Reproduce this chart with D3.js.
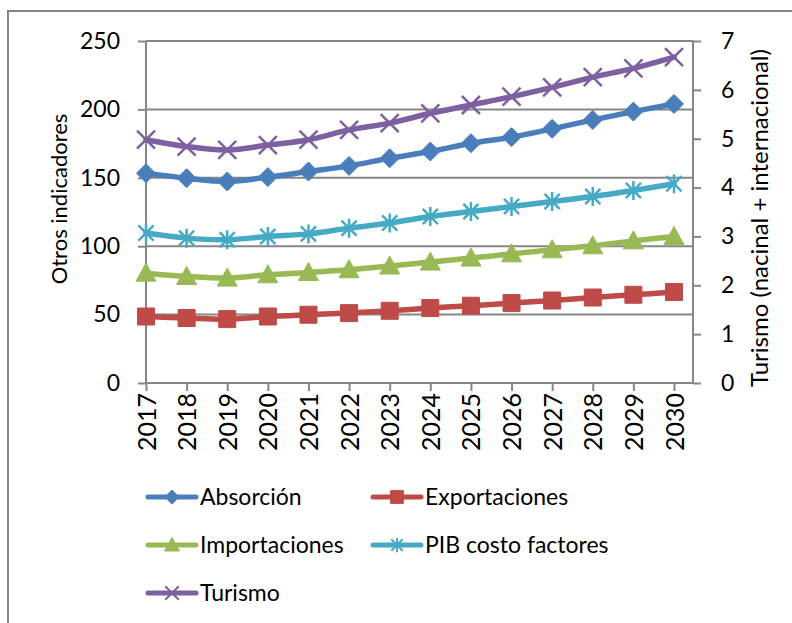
<!DOCTYPE html>
<html>
<head>
<meta charset="utf-8">
<script src="https://cdn.jsdelivr.net/npm/d3@7"></script>
<style>
body { margin: 0; background: #fff; }
text { font-family: Lato, "Open Sans", sans-serif; fill: #000; }
</style>
</head>
<body>
<script>
// data
var years = [2017, 2018, 2019, 2020, 2021, 2022, 2023, 2024, 2025, 2026, 2027, 2028, 2029, 2030];
var absorcion     = [153.4, 149.7, 147.3, 150.5, 154.6, 158.7, 164.3, 169.2, 175.3, 179.7, 185.8, 192.3, 198.4, 204.0];
var exportaciones = [48.6, 47.5, 46.7, 48.6, 49.9, 51.1, 52.8, 54.8, 56.5, 58.4, 60.3, 62.5, 64.5, 66.5];
var importaciones = [80.3, 77.9, 76.7, 79.1, 80.8, 82.8, 85.5, 88.4, 91.3, 94.4, 97.4, 100.3, 103.9, 107.1];
var pibCosto      = [109.6, 105.9, 104.7, 107.1, 109.0, 113.2, 116.9, 121.7, 125.4, 129.0, 132.7, 136.3, 140.7, 145.6];
var turismo       = [4.98, 4.84, 4.77, 4.87, 4.98, 5.18, 5.32, 5.52, 5.69, 5.86, 6.05, 6.26, 6.44, 6.67];
var leftTicks  = [0, 50, 100, 150, 200, 250];
var rightTicks = [0, 1, 2, 3, 4, 5, 6, 7];
var seriesNames = ["Absorción", "Exportaciones", "Importaciones", "PIB costo factores", "Turismo"];

var width = 792, height = 623;
var plot = {left: 146, right: 693, top: 41, bottom: 383};
var axisColor = "#868686";

var svg = d3.select("body").append("svg")
    .attr("width", width)
    .attr("height", height);

// outer frame, only the top and left edges fall inside the picture
svg.append("rect")
    .attr("x", 8)
    .attr("y", 11)
    .attr("width", 900)
    .attr("height", 800)
    .attr("fill", "none")
    .attr("stroke", axisColor)
    .attr("stroke-width", 2);

// scales
var xScale = d3.scalePoint().domain(years).range([146, 674]);
var yLeft = d3.scaleLinear().domain([0, 250]).range([plot.bottom, plot.top]);
var yRight = d3.scaleLinear().domain([0, 7]).range([plot.bottom, plot.top]);

// gridlines
svg.append("g")
    .selectAll("line")
    .data(leftTicks)
  .enter().append("line")
    .attr("x1", plot.left)
    .attr("x2", plot.right)
    .attr("y1", function(d) { return yLeft(d); })
    .attr("y2", function(d) { return yLeft(d); })
    .attr("stroke", axisColor)
    .attr("stroke-width", 2);

function styleAxis(g, size) {
  g.select(".domain").remove();
  g.selectAll(".tick line").attr("stroke", axisColor).attr("stroke-width", 2);
  g.selectAll("text").style("font-size", size + "px").attr("fill", "#000");
}

// left axis
var gLeft = svg.append("g")
    .attr("transform", "translate(" + plot.left + ",0)")
    .call(d3.axisLeft(yLeft).tickValues(leftTicks).tickSize(8).tickPadding(18))
    .call(styleAxis, 23);

// right axis
var gRight = svg.append("g")
    .attr("transform", "translate(" + plot.right + ",0)")
    .call(d3.axisRight(yRight).tickValues(rightTicks).tickFormat(d3.format("d")).tickSize(8).tickPadding(20))
    .call(styleAxis, 23);

// bottom axis
var gBottom = svg.append("g")
    .attr("transform", "translate(0," + plot.bottom + ")")
    .call(d3.axisBottom(xScale).tickSize(8))
    .call(styleAxis, 25);

gBottom.selectAll("text")
    .attr("transform", "rotate(-90)")
    .attr("text-anchor", "end")
    .attr("x", -10)
    .attr("y", 0)
    .attr("dy", "0.36em");

// axis lines
[[plot.left, plot.top, plot.left, plot.bottom],
 [plot.right, plot.top, plot.right, plot.bottom],
 [plot.left, plot.bottom, plot.right, plot.bottom]].forEach(function(l) {
  svg.append("line")
      .attr("x1", l[0]).attr("y1", l[1])
      .attr("x2", l[2]).attr("y2", l[3])
      .attr("stroke", axisColor)
      .attr("stroke-width", 2);
});

// axis titles
svg.append("text")
    .attr("transform", "translate(67,199) rotate(-90)")
    .attr("text-anchor", "middle")
    .style("font-size", "22px")
    .text("Otros indicadores");

svg.append("text")
    .attr("transform", "translate(768,218) rotate(-90)")
    .attr("text-anchor", "middle")
    .style("font-size", "24px")
    .text("Turismo (nacinal + internacional)");

// marker shapes
function markerPath(type, s) {
  var k = s * 0.8;
  if (type == "diamond") return "M0," + (-s) + "L" + s + ",0L0," + s + "L" + (-s) + ",0Z";
  if (type == "square") return "M" + (-s) + "," + (-s) + "h" + (2 * s) + "v" + (2 * s) + "h" + (-2 * s) + "Z";
  if (type == "triangle") return "M0," + (-s) + "L" + s + "," + k + "L" + (-s) + "," + k + "Z";
  if (type == "star") return "M0," + (-s) + "V" + s + "M" + (-k) + "," + (-k) + "L" + k + "," + k + "M" + k + "," + (-k) + "L" + (-k) + "," + k;
  return "M" + (-s) + "," + (-s) + "L" + s + "," + s + "M" + s + "," + (-s) + "L" + (-s) + "," + s;
}

var series = [
  {name: seriesNames[0], values: absorcion,     color: "#4a7ebb", marker: "diamond",  size: 9.5, scale: yLeft},
  {name: seriesNames[1], values: exportaciones, color: "#be4b48", marker: "square",   size: 8.5, scale: yLeft},
  {name: seriesNames[2], values: importaciones, color: "#98b954", marker: "triangle", size: 10,  scale: yLeft},
  {name: seriesNames[3], values: pibCosto,      color: "#46aac5", marker: "star",     size: 9.5, scale: yLeft},
  {name: seriesNames[4], values: turismo,       color: "#7d60a0", marker: "x",        size: 9,   scale: yRight}
];

function isOpen(m) { return m == "star" || m == "x"; }

// draw lines and markers
series.forEach(function(s) {
  var line = d3.line()
      .x(function(d, i) { return xScale(years[i]); })
      .y(function(d) { return s.scale(d); })
      .curve(d3.curveCatmullRom);

  svg.append("path")
      .datum(s.values)
      .attr("d", line)
      .attr("fill", "none")
      .attr("stroke", s.color)
      .attr("stroke-width", 5.5)
      .attr("stroke-linecap", "round");

  svg.append("g")
      .selectAll("path")
      .data(s.values)
    .enter().append("path")
      .attr("transform", function(d, i) { return "translate(" + xScale(years[i]) + "," + s.scale(d) + ")"; })
      .attr("d", markerPath(s.marker, s.size))
      .attr("fill", isOpen(s.marker) ? "none" : s.color)
      .attr("stroke", s.color)
      .attr("stroke-width", isOpen(s.marker) ? 2.5 : 1);
});

// legend
var legendPos = [[148, 497], [373, 497], [148, 545], [373, 545], [148, 593]];
series.forEach(function(s, i) {
  var g = svg.append("g")
      .attr("transform", "translate(" + legendPos[i][0] + "," + legendPos[i][1] + ")");
  g.append("line")
      .attr("x1", 0).attr("x2", 48)
      .attr("stroke", s.color)
      .attr("stroke-width", 5)
      .attr("stroke-linecap", "round");
  g.append("path")
      .attr("transform", "translate(24,0)")
      .attr("d", markerPath(s.marker, s.size * 0.75))
      .attr("fill", isOpen(s.marker) ? "none" : s.color)
      .attr("stroke", s.color)
      .attr("stroke-width", isOpen(s.marker) ? 2 : 1);
  g.append("text")
      .attr("x", 52)
      .attr("dy", "0.35em")
      .style("font-size", "23px")
      .text(s.name);
});
</script>
</body>
</html>
